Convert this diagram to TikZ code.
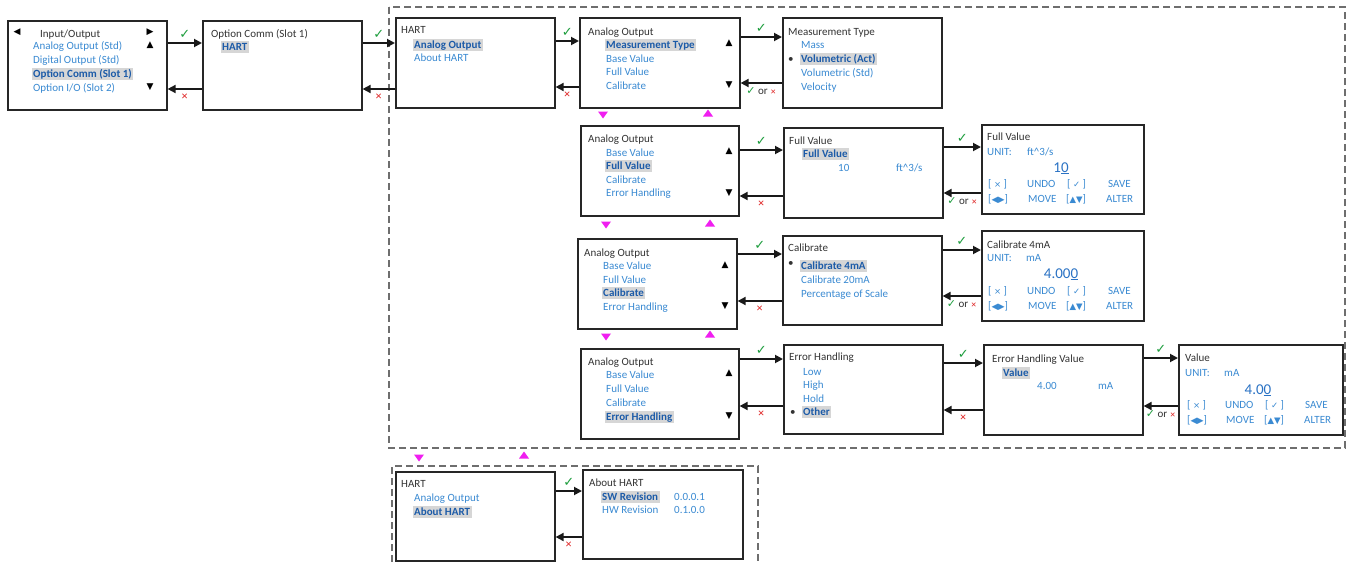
\documentclass[tikz,border=0pt]{standalone}
\usepackage{fontspec}
\setmainfont{Carlito}
\newfontfamily\sym{DejaVu Sans}
\usetikzlibrary{arrows.meta}
\definecolor{hdrc}{HTML}{333333}
\definecolor{itc}{HTML}{3A8AD2}
\definecolor{selc}{HTML}{1C5BA8}
\definecolor{bigc}{HTML}{2A72C4}
\definecolor{hlc}{HTML}{D6D6D6}
\definecolor{okc}{HTML}{1E9E3E}
\definecolor{noc}{HTML}{E02626}
\definecolor{mag}{HTML}{F01EF0}
\definecolor{dashc}{HTML}{6E6E6E}
\newcommand\fsz{\fontsize{11}{12}\selectfont}
\newcommand\smsym[1]{{\sym\fontsize{8.5}{9}\selectfont #1}}
\begin{document}
\begin{tikzpicture}[x=1pt,y=-1pt,
 box/.style={draw=black!85,line width=1.6pt,fill=white,anchor=north west,inner sep=0pt},
 hd/.style={anchor=base west,inner sep=0pt,text=hdrc,font=\fsz},
 it/.style={hd,text=itc},
 sel/.style={anchor=base west,inner xsep=1.5pt,inner ysep=1pt,text height=7.8pt,text depth=2.3pt,fill=hlc,text=selc,font=\fsz\bfseries},
 tri/.style={anchor=center,inner sep=0pt,text=black,font=\sym\fontsize{9}{9}\selectfont},
 big/.style={anchor=base,inner sep=0pt,text=bigc,font=\fontsize{15}{15}\selectfont},
 arr/.style={-{Triangle[length=8pt,width=8pt]},line width=1.8pt,black!90},
 ok/.style={midway,above=4pt,inner sep=0pt,text=okc,font=\sym\fontsize{13}{13}\selectfont},
 no/.style={midway,below=4pt,inner sep=0pt,text=noc,font=\sym\fontsize{8.5}{9}\selectfont},
 okno/.style={midway,below=4pt,inner sep=0pt,text=hdrc,font=\fsz},
 dsh/.style={draw=dashc,line width=1.4pt,dash pattern=on 7pt off 4pt},
 mdn/.pic={\fill[mag] (-5,-3.5) -- (5,-3.5) -- (0,3.5) -- cycle;},
 mup/.pic={\fill[mag] (-5,3.5) -- (5,3.5) -- (0,-3.5) -- cycle;}]
\useasboundingbox (0,0) rectangle (1350,562);
\fill[white] (0,0) rectangle (1350,562);
% dashed groups
\draw[dsh] (389,7) rectangle (1345,448);
\draw[dsh] (392,562) -- (392,466) -- (758,466) -- (758,562);
% boxes
\node[box,minimum width=159pt,minimum height=89pt] (b1) at (7,20) {};
\node[box,minimum width=159pt,minimum height=89pt] (b2) at (202,20) {};
\node[box,minimum width=159pt,minimum height=90pt] (b3) at (395,17) {};
\node[box,minimum width=160pt,minimum height=90pt] (b4) at (579,17) {};
\node[box,minimum width=159pt,minimum height=90pt] (b5) at (782,17) {};
\node[box,minimum width=158pt,minimum height=90pt] (b6) at (580,125) {};
\node[box,minimum width=159pt,minimum height=90pt] (b7) at (783,127) {};
\node[box,minimum width=162pt,minimum height=89pt] (b8) at (981,124) {};
\node[box,minimum width=159pt,minimum height=90pt] (b9) at (577,238) {};
\node[box,minimum width=159pt,minimum height=89pt] (b10) at (782,235) {};
\node[box,minimum width=162pt,minimum height=90pt] (b11) at (981,230) {};
\node[box,minimum width=158pt,minimum height=90pt] (b12) at (580,348) {};
\node[box,minimum width=159pt,minimum height=89pt] (b13) at (783,344) {};
\node[box,minimum width=159pt,minimum height=90pt] (b14) at (983,344) {};
\node[box,minimum width=164pt,minimum height=90pt] (b15) at (1178,344) {};
\node[box,minimum width=159pt,minimum height=89pt] (b16) at (395,471) {};
\node[box,minimum width=160pt,minimum height=89pt] (b17) at (582,469) {};
% b1
\node[tri] (b1l) at (17,32) {◀};
\node[hd] (b1h) at (40,37) {Input/Output};
\node[tri] (b1r) at (150,32) {▶};
\node[tri] (b1u) at (150,45) {▲};
\node[tri] (b1d) at (150,87) {▼};
\node[it] (b1a) at (33,49) {Analog Output (Std)};
\node[it] (b1b) at (33,63) {Digital Output (Std)};
\node[sel] (b1c) at (31.5,77) {Option Comm (Slot 1)};
\node[it] (b1e) at (33,91) {Option I/O (Slot 2)};
% b2
\node[hd] (b2h) at (211,37) {Option Comm (Slot 1)};
\node[sel] (b2a) at (220.5,50) {HART};
% b3
\node[hd] (b3h) at (401,34) {HART};
\node[sel] (b3a) at (412.5,48) {Analog Output};
\node[it] (b3b) at (414,61) {About HART};
% b4
\node[hd] (b4h) at (588,35) {Analog Output};
\node[sel] (b4a) at (604.5,48) {Measurement Type};
\node[it] (b4b) at (606,62) {Base Value};
\node[it] (b4c) at (606,75) {Full Value};
\node[it] (b4d) at (606,89) {Calibrate};
\node[tri] (b4u) at (729,43) {▲};
\node[tri] (b4v) at (729,85) {▼};
% b5
\node[hd] (b5h) at (788,35) {Measurement Type};
\node[it] (b5a) at (801,48) {Mass};
\node[hd] (b5p) at (788,62) {•};
\node[sel] (b5b) at (799.5,62) {Volumetric (Act)};
\node[it] (b5c) at (801,76) {Volumetric (Std)};
\node[it] (b5d) at (801,90) {Velocity};
% b6
\node[hd] (b6h) at (588,142) {Analog Output};
\node[it] (b6a) at (606,156) {Base Value};
\node[sel] (b6b) at (604.5,169) {Full Value};
\node[it] (b6c) at (606,183) {Calibrate};
\node[it] (b6d) at (606,196) {Error Handling};
\node[tri] (b6u) at (729,151) {▲};
\node[tri] (b6v) at (729,193) {▼};
% b7
\node[hd] (b7h) at (789,144) {Full Value};
\node[sel] (b7a) at (801.5,157) {Full Value};
\node[it] (b7b) at (838,171) {10};
\node[it] (b7c) at (896,171) {ft\textasciicircum 3/s};
% b8
\node[hd] (b8h) at (987,140) {Full Value};
\node[it] (b8u) at (987,155) {UNIT:};
\node[it] (b8v) at (1027,155) {ft\textasciicircum 3/s};
\node[big] (b8n) at (1061,172) {1\underline{0}};
\node[it] (b8x) at (988,187) {[ \smsym{×} ]};
\node[it] (b8y) at (1027,187) {UNDO};
\node[it] (b8z) at (1067,187) {[ \smsym{✓} ]};
\node[it] (b8s) at (1108,187) {SAVE};
\node[it] (b8m) at (988,202) {[\smsym{◀▶}]};
\node[it] (b8o) at (1028,202) {MOVE};
\node[it] (b8t) at (1066,202) {[\smsym{▲▼}]};
\node[it] (b8w) at (1106,202) {ALTER};
% b9
\node[hd] (b9h) at (584,256) {Analog Output};
\node[it] (b9a) at (603,269) {Base Value};
\node[it] (b9b) at (603,283) {Full Value};
\node[sel] (b9c) at (601.5,296) {Calibrate};
\node[it] (b9d) at (603,310) {Error Handling};
\node[tri] (b9u) at (725,265) {▲};
\node[tri] (b9v) at (725,306) {▼};
% b10
\node[hd] (b10h) at (788,251) {Calibrate};
\node[hd] (b10p) at (788,266) {•};
\node[sel] (b10a) at (799.5,269) {Calibrate 4mA};
\node[it] (b10b) at (801,283) {Calibrate 20mA};
\node[it] (b10c) at (801,297) {Percentage of Scale};
% b11
\node[hd] (b11h) at (987,248) {Calibrate 4mA};
\node[it] (b11u) at (987,261) {UNIT:};
\node[it] (b11v) at (1026,261) {mA};
\node[big] (b11n) at (1061,278) {4.00\underline{0}};
\node[it] (b11x) at (988,294) {[ \smsym{×} ]};
\node[it] (b11y) at (1027,294) {UNDO};
\node[it] (b11z) at (1067,294) {[ \smsym{✓} ]};
\node[it] (b11s) at (1108,294) {SAVE};
\node[it] (b11m) at (988,309) {[\smsym{◀▶}]};
\node[it] (b11o) at (1028,309) {MOVE};
\node[it] (b11t) at (1066,309) {[\smsym{▲▼}]};
\node[it] (b11w) at (1106,309) {ALTER};
% b12
\node[hd] (b12h) at (588,365) {Analog Output};
\node[it] (b12a) at (606,378) {Base Value};
\node[it] (b12b) at (606,392) {Full Value};
\node[it] (b12c) at (606,406) {Calibrate};
\node[sel] (b12d) at (604.5,420) {Error Handling};
\node[tri] (b12u) at (729,373) {▲};
\node[tri] (b12v) at (729,416) {▼};
% b13
\node[hd] (b13h) at (789,360) {Error Handling};
\node[it] (b13a) at (803,375) {Low};
\node[it] (b13b) at (803,388) {High};
\node[it] (b13c) at (803,402) {Hold};
\node[hd] (b13p) at (790,415) {•};
\node[sel] (b13d) at (801.5,415) {Other};
% b14
\node[hd] (b14h) at (992,362) {Error Handling Value};
\node[sel] (b14a) at (1001.5,376) {Value};
\node[it] (b14b) at (1037,389) {4.00};
\node[it] (b14c) at (1098,389) {mA};
% b15
\node[hd] (b15h) at (1185,361) {Value};
\node[it] (b15u) at (1185,376) {UNIT:};
\node[it] (b15v) at (1224,376) {mA};
\node[big] (b15n) at (1258,394) {4.0\underline{0}};
\node[it] (b15x) at (1187,408) {[ \smsym{×} ]};
\node[it] (b15y) at (1225,408) {UNDO};
\node[it] (b15z) at (1265,408) {[ \smsym{✓} ]};
\node[it] (b15s) at (1305,408) {SAVE};
\node[it] (b15m) at (1187,423) {[\smsym{◀▶}]};
\node[it] (b15o) at (1226,423) {MOVE};
\node[it] (b15t) at (1264,423) {[\smsym{▲▼}]};
\node[it] (b15w) at (1304,423) {ALTER};
% b16
\node[hd] (b16h) at (401,487) {HART};
\node[it] (b16a) at (414,501) {Analog Output};
\node[sel] (b16b) at (412.5,515) {About HART};
% b17
\node[hd] (b17h) at (589,486) {About HART};
\node[sel] (b17a) at (600.5,500) {SW Revision};
\node[it] (b17b) at (674,500) {0.0.0.1};
\node[it] (b17c) at (602,513) {HW Revision};
\node[it] (b17d) at (674,513) {0.1.0.0};
% connectors
\draw[arr] (b1.east|-0,43) -- node[ok]{✓} (b2.west|-0,43);
\draw[arr] (b2.west|-0,89) -- node[no]{✕} (b1.east|-0,89);
\draw[arr] (b2.east|-0,43) -- node[ok]{✓} (b3.west|-0,43);
\draw[arr] (b3.west|-0,89) -- node[no]{✕} (b2.east|-0,89);
\draw[arr] (b3.east|-0,41) -- node[ok]{✓} (b4.west|-0,41);
\draw[arr] (b4.west|-0,87) -- node[no]{✕} (b3.east|-0,87);
\draw[arr] (b4.east|-0,37) -- node[ok]{✓} (b5.west|-0,37);
\draw[arr] (b5.west|-0,83) -- node[okno]{{\sym\color{okc}✓} or {\sym\color{noc}\fontsize{7}{7}\selectfont ✕}} (b4.east|-0,83);
\draw[arr] (b6.east|-0,150) -- node[ok]{✓} (b7.west|-0,150);
\draw[arr] (b7.west|-0,196) -- node[no]{✕} (b6.east|-0,196);
\draw[arr] (b7.east|-0,147) -- node[ok]{✓} (b8.west|-0,147);
\draw[arr] (b8.west|-0,193) -- node[okno]{{\sym\color{okc}✓} or {\sym\color{noc}\fontsize{7}{7}\selectfont ✕}} (b7.east|-0,193);
\draw[arr] (b9.east|-0,254) -- node[ok]{✓} (b10.west|-0,254);
\draw[arr] (b10.west|-0,301) -- node[no]{✕} (b9.east|-0,301);
\draw[arr] (b10.east|-0,250) -- node[ok]{✓} (b11.west|-0,250);
\draw[arr] (b11.west|-0,296) -- node[okno]{{\sym\color{okc}✓} or {\sym\color{noc}\fontsize{7}{7}\selectfont ✕}} (b10.east|-0,296);
\draw[arr] (b12.east|-0,359) -- node[ok]{✓} (b13.west|-0,359);
\draw[arr] (b13.west|-0,406) -- node[no]{✕} (b12.east|-0,406);
\draw[arr] (b13.east|-0,363) -- node[ok]{✓} (b14.west|-0,363);
\draw[arr] (b14.west|-0,410) -- node[no]{✕} (b13.east|-0,410);
\draw[arr] (b14.east|-0,358) -- node[ok]{✓} (b15.west|-0,358);
\draw[arr] (b15.west|-0,406) -- node[okno]{{\sym\color{okc}✓} or {\sym\color{noc}\fontsize{7}{7}\selectfont ✕}} (b14.east|-0,406);
\draw[arr] (b16.east|-0,491) -- node[ok]{✓} (b17.west|-0,491);
\draw[arr] (b17.west|-0,537) -- node[no]{✕} (b16.east|-0,537);
% magenta navigation triangles
\pic at (603,115) {mdn}; \pic at (708,113) {mup};
\pic at (606,225) {mdn}; \pic at (710,223) {mup};
\pic at (606,337) {mdn}; \pic at (710,334) {mup};
\pic at (419,458) {mdn}; \pic at (524,455) {mup};
\end{tikzpicture}
\end{document}
